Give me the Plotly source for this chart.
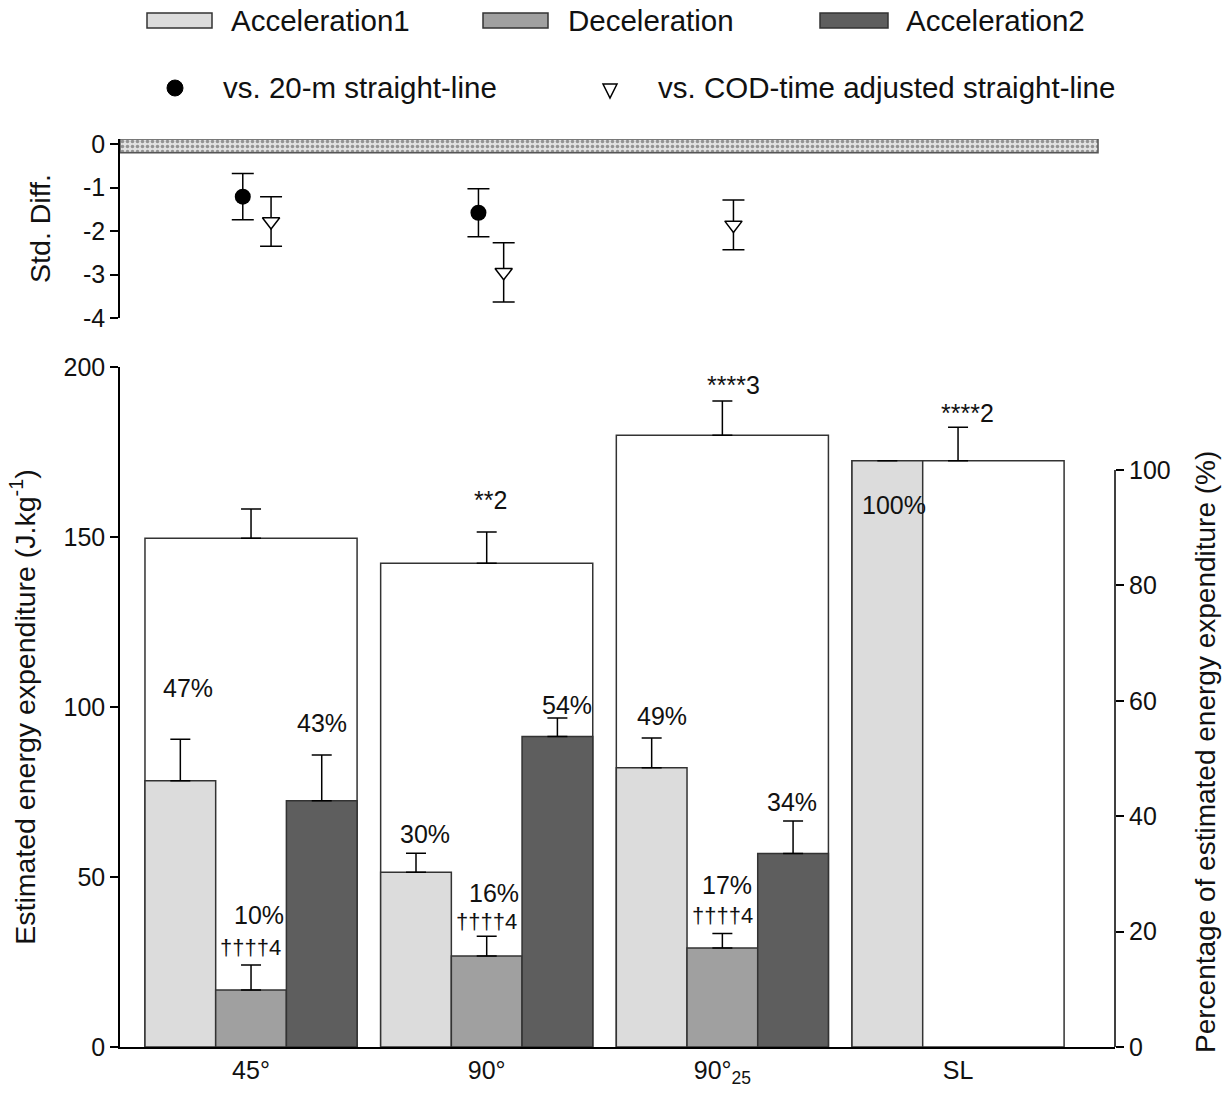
import plotly.graph_objects as go

# ---------------- data ----------------
categories = ["45°", "90°", "90°<sub>25</sub>", "SL"]
cat_idx = [0, 1, 2, 3]

total_mean = [149.6, 142.3, 179.9, 172.4]
total_sd = [8.6, 9.2, 10.1, 9.9]

acc1_mean = [78.3, 51.4, 82.1, 172.4]
acc1_sd = [12.2, 5.6, 8.8, None]

dec_mean = [16.8, 26.8, 29.1]
dec_sd = [7.3, 5.8, 4.3]

acc2_mean = [72.4, 91.3, 56.9]
acc2_sd = [13.5, 5.5, 9.6]

acc1_pct = ["47%", "30%", "49%", "100%"]
dec_pct = ["10%", "16%", "17%"]
acc2_pct = ["43%", "54%", "34%"]
dec_sig = ["††††4", "††††4", "††††4"]
total_sig = ["", "**2", "****3", "****2"]

# standardized differences (top panel)
sd_sl20_x = [0, 1]
sd_sl20 = [-1.21, -1.58]
sd_sl20_err = [0.53, 0.55]
sd_cod_x = [0, 1, 2]
sd_cod = [-1.78, -2.95, -1.86]
sd_cod_err = [0.57, 0.68, 0.57]
trivial_band = [-0.2, 0.115]

left_ticks = [0, 50, 100, 150, 200]
std_ticks = [0, -1, -2, -3, -4]
std_tick_text = ["0", "-1", "-2", "-3", "-4"]
pct_ticks = [0, 20, 40, 60, 80, 100]

# ---------------- styling ----------------
FONT = "Liberation Sans, Arial, sans-serif"
TXT = "#111111"
C_ACC1 = "#dcdcdc"
C_DEC = "#a0a0a0"
C_ACC2 = "#5e5e5e"
EDGE = "#333333"
W, H = 1223, 1094
ML, MR, MT, MB = 120, 108, 139, 47
PW, PH = W - ML - MR, H - MT - MB


def px(xp):
    return (xp - ML) / PW


def py(yp):
    return (H - MB - yp) / PH


XR = [-0.556, 3.666]
BAND_X_END = 3.594
main_top = py(367)
top_bottom = py(318)

fig = go.Figure()


def err(vals):
    return dict(type="data", array=vals, symmetric=False,
                arrayminus=[0] * len(vals), color="black",
                thickness=1.5, width=10)


# total bars
fig.add_trace(go.Bar(x=cat_idx, y=total_mean, width=0.9, offset=-0.45,
                     marker=dict(color="white", line=dict(color=EDGE, width=1.5)),
                     error_y=err(total_sd), name="Total", showlegend=False,
                     xaxis="x", yaxis="y"))
fig.add_trace(go.Bar(x=cat_idx, y=acc1_mean, width=0.3, offset=-0.45,
                     marker=dict(color=C_ACC1, line=dict(color=EDGE, width=1.5)),
                     error_y=err(acc1_sd), name="Acceleration1", showlegend=False))
fig.add_trace(go.Bar(x=cat_idx[:3], y=dec_mean, width=0.3, offset=-0.15,
                     marker=dict(color=C_DEC, line=dict(color=EDGE, width=1.5)),
                     error_y=err(dec_sd), name="Deceleration", showlegend=False))
fig.add_trace(go.Bar(x=cat_idx[:3], y=acc2_mean, width=0.3, offset=0.15,
                     marker=dict(color=C_ACC2, line=dict(color=EDGE, width=1.5)),
                     error_y=err(acc2_sd), name="Acceleration2", showlegend=False))

# trivial band in top panel
b0, b1 = trivial_band
fig.add_trace(go.Scatter(x=[XR[0], BAND_X_END, BAND_X_END, XR[0], XR[0]],
                         y=[b0, b0, b1, b1, b0], mode="lines", fill="toself",
                         fillcolor="#d8d8d8",
                         fillpattern=dict(shape=".", bgcolor="#e2e2e2", fgcolor="#444444",
                                          size=5, solidity=0.4),
                         line=dict(color="#555555", width=1.5),
                         xaxis="x2", yaxis="y2", showlegend=False, hoverinfo="skip"))

# std diff markers
fig.add_trace(go.Scatter(x=[c - 0.035 for c in sd_sl20_x], y=sd_sl20, mode="markers",
                         marker=dict(symbol="circle", size=16, color="black"),
                         error_y=dict(type="data", array=sd_sl20_err, color="black",
                                      thickness=1.5, width=11),
                         name="vs. 20-m straight-line", showlegend=False,
                         xaxis="x2", yaxis="y2"))
fig.add_trace(go.Scatter(x=[c + o for c, o in zip(sd_cod_x, [0.085, 0.072, 0.047])],
                         y=sd_cod, mode="markers",
                         marker=dict(symbol="triangle-down", size=15, color="white",
                                     line=dict(color="black", width=1.5)),
                         error_y=dict(type="data", array=sd_cod_err, color="black",
                                      thickness=1.5, width=11),
                         name="vs. COD-time adjusted straight-line", showlegend=False,
                         xaxis="x2", yaxis="y2"))

# ---------------- annotations ----------------
ann = []


def lab(x, y, text, size=25):
    ann.append(dict(x=x, y=y, xref="x", yref="y", text=text, showarrow=False,
                    font=dict(family=FONT, size=size, color=TXT),
                    xanchor="center", yanchor="middle"))


acc1_lab_pos = [(-0.267, 105.6), (-0.263, 62.6), (-0.255, 97.4), (-0.27, 159.4)]
dec_lab_pos = [(0.034, 38.8), (0.03, 45.3), (0.02, 47.6)]
dec_sig_pos = [(-0.004, 29.4), (0.0, 36.8), (0.0, 38.6)]
acc2_lab_pos = [(0.30, 95.3), (0.34, 100.6), (0.297, 72.0)]
tot_sig_pos = [(0, 0), (0.017, 160.9), (0.047, 194.7), (0.038, 186.5)]

for i, t in enumerate(acc1_pct):
    lab(cat_idx[i] + acc1_lab_pos[i][0], acc1_lab_pos[i][1], t)
for i, t in enumerate(dec_pct):
    lab(cat_idx[i] + dec_lab_pos[i][0], dec_lab_pos[i][1], t)
for i, t in enumerate(dec_sig):
    lab(cat_idx[i] + dec_sig_pos[i][0], dec_sig_pos[i][1], t, size=22)
for i, t in enumerate(acc2_pct):
    lab(cat_idx[i] + acc2_lab_pos[i][0], acc2_lab_pos[i][1], t)
for i, t in enumerate(total_sig):
    if t:
        lab(cat_idx[i] + tot_sig_pos[i][0], tot_sig_pos[i][1], t)

# right axis title
ann.append(dict(x=px(1205), y=py(752), xref="paper", yref="paper",
                text="Percentage of estimated energy expenditure (%)", textangle=-90,
                showarrow=False, font=dict(family=FONT, size=28, color=TXT),
                xanchor="center", yanchor="middle"))

# manual legend
LF = dict(family=FONT, size=29.5, color=TXT)
shapes = []
leg_row1 = [("Acceleration1", C_ACC1, 147, 212, 229),
            ("Deceleration", C_DEC, 483, 548, 566),
            ("Acceleration2", C_ACC2, 820, 888, 904)]
for name, col, x0, x1, xt in leg_row1:
    shapes.append(dict(type="rect", xref="paper", yref="paper",
                       x0=px(x0), x1=px(x1), y0=py(28), y1=py(13),
                       fillcolor=col, line=dict(color=EDGE, width=1.5)))
    ann.append(dict(x=px(xt), y=py(20), xref="paper", yref="paper", text=name,
                    showarrow=False, font=LF, xanchor="left", yanchor="middle"))

# circle legend
shapes.append(dict(type="circle", xref="paper", yref="paper",
                   x0=px(167), x1=px(183), y0=py(96), y1=py(80),
                   fillcolor="black", line=dict(color="black", width=1)))
ann.append(dict(x=px(221), y=py(88), xref="paper", yref="paper",
                text="vs. 20-m straight-line", showarrow=False, font=LF,
                xanchor="left", yanchor="middle"))
# triangle legend
tx0, tx1, tx2 = px(603), px(617), px(610)
ty0, ty1 = py(84), py(98)
shapes.append(dict(type="path", xref="paper", yref="paper",
                   path=f"M {tx0} {ty0} L {tx1} {ty0} L {tx2} {ty1} Z",
                   fillcolor="white", line=dict(color="black", width=1.5)))
ann.append(dict(x=px(656), y=py(88), xref="paper", yref="paper",
                text="vs. COD-time adjusted straight-line", showarrow=False, font=LF,
                xanchor="left", yanchor="middle"))

# right axis line (0-100 only)
shapes.append(dict(type="line", xref="paper", yref="y3", x0=1, x1=1, y0=0, y1=100,
                   line=dict(color="black", width=1.5)))

TF = dict(family=FONT, size=25, color=TXT)
fig.update_layout(
    width=W, height=H,
    margin=dict(l=ML, r=MR, t=MT, b=MB, autoexpand=False),
    paper_bgcolor="white", plot_bgcolor="rgba(0,0,0,0)",
    barmode="overlay", showlegend=False,
    font=dict(family=FONT, size=25, color=TXT),
    xaxis=dict(domain=[0, 1], range=XR, tickvals=cat_idx, ticktext=categories,
               showline=True, linecolor="black", linewidth=1.5, ticks="",
               showgrid=False, zeroline=False, tickfont=TF, anchor="y",
               automargin=False),
    xaxis2=dict(domain=[0, 1], range=XR, visible=False, anchor="y2",
                matches="x"),
    yaxis=dict(domain=[0, main_top], range=[0, 200], tickvals=left_ticks,
               showline=True, linecolor="black", linewidth=1.5, ticks="outside",
               ticklen=8, tickwidth=1.5, tickcolor="black", showgrid=False,
               zeroline=False, tickfont=TF, anchor="x", automargin=False,
               title=dict(text="Estimated energy expenditure (J.kg<sup>-1</sup>)",
                          font=dict(family=FONT, size=28.5, color=TXT),
                          standoff=20)),
    yaxis2=dict(domain=[top_bottom, 1], range=[-4, 0.115], tickvals=std_ticks,
                ticktext=std_tick_text,
                showline=True, linecolor="black", linewidth=1.5, ticks="outside",
                ticklen=8, tickwidth=1.5, tickcolor="black", showgrid=False,
                zeroline=False, tickfont=TF, anchor="x2", automargin=False,
                title=dict(text="Std. Diff.", font=dict(family=FONT, size=28.5,
                                                        color=TXT),
                           standoff=24)),
    yaxis3=dict(overlaying="y", side="right", range=[0, 117.85],
                tickvals=pct_ticks, showline=False, ticks="outside",
                ticklen=8, tickwidth=1.5, tickcolor="black", showgrid=False,
                zeroline=False, tickfont=TF, anchor="x", automargin=False),
    annotations=ann, shapes=shapes,
)
# dummy trace to activate right axis
fig.add_trace(go.Scatter(x=[None], y=[None], xaxis="x", yaxis="y3",
                         showlegend=False, hoverinfo="skip"))

fig.write_html("out.html")
